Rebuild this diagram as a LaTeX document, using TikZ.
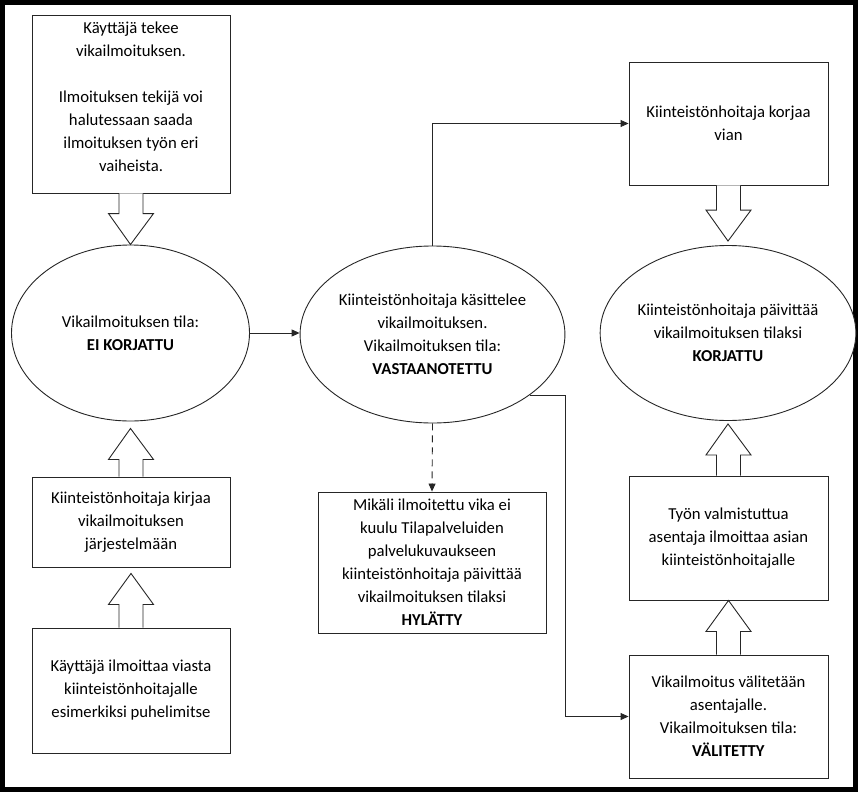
\documentclass[tikz,border=0pt]{standalone}
\usepackage{fontspec}
\setmainfont{Carlito}
\usetikzlibrary{shapes.geometric,arrows.meta,calc}
\newcommand\barrowdown[2]{%
  \draw[blk] let \p1=#1, \p2=#2 in
    (\x1-12pt,\y1) -- (\x1-12pt,\y2+31pt) -- (\x1-22.5pt,\y2+31pt) -- (\x2,\y2)
    -- (\x1+22.5pt,\y2+31pt) -- (\x1+12pt,\y2+31pt) -- (\x1+12pt,\y1);}
\newcommand\barrowup[2]{%
  \draw[blk] let \p1=#1, \p2=#2 in
    (\x1-12pt,\y1) -- (\x1-12pt,\y2-31pt) -- (\x1-22.5pt,\y2-31pt) -- (\x2,\y2)
    -- (\x1+22.5pt,\y2-31pt) -- (\x1+12pt,\y2-31pt) -- (\x1+12pt,\y1);}
\begin{document}
\begin{tikzpicture}[x=1pt,y=-1pt,
  txt/.style={font=\fontsize{16.7}{23}\selectfont, align=center, text=black, inner sep=0pt},
  box/.style={txt, draw=black!85, line width=0.9pt, rectangle, fill=white},
  oval/.style={txt, draw=black!85, line width=0.9pt, ellipse, fill=white},
  blk/.style={draw=black!85, line width=0.9pt, fill=white, line join=miter},
  conn/.style={draw=black!85, line width=0.9pt, -{Triangle[length=8pt,width=7pt]}},
  dconn/.style={conn, dash pattern=on 7pt off 5pt}
]
\useasboundingbox (0,0) rectangle (858,792);
\draw[line width=5pt, black] (2.5,2.5) rectangle (855.5,789.5);

% left column
\node[box, minimum width=198, minimum height=178] (box1) at (131,104) {};
\node[txt] (t1) at (131,97) {Käyttäjä tekee\\vikailmoituksen.\\[23pt]Ilmoituksen tekijä voi\\halutessaan saada\\ilmoituksen työn eri\\vaiheista.};
\node[oval, minimum width=238, minimum height=176] (e1) at (130.5,333) {Vikailmoituksen tila:\\\textbf{EI KORJATTU}};
\node[box, minimum width=198, minimum height=90] (box2) at (131,522) {Kiinteistönhoitaja kirjaa\\vikailmoituksen\\järjestelmään};
\node[box, minimum width=198, minimum height=125] (box3) at (131,690.5) {Käyttäjä ilmoittaa viasta\\kiinteistönhoitajalle\\esimerkiksi puhelimitse};

% middle column
\node[oval, minimum width=239, minimum height=177] (e2) at (432.5,334.5) {Kiinteistönhoitaja käsittelee\\vikailmoituksen.\\Vikailmoituksen tila:\\\textbf{VASTAANOTETTU}};
\node[box, minimum width=228, minimum height=141] (box7) at (432,562.5) {Mikäli ilmoitettu vika ei\\kuulu Tilapalveluiden\\palvelukuvaukseen\\kiinteistönhoitaja päivittää\\vikailmoituksen tilaksi\\\textbf{HYLÄTTY}};

% right column
\node[box, minimum width=199, minimum height=123] (box4) at (728.5,123.5) {Kiinteistönhoitaja korjaa\\vian};
\node[oval, minimum width=238, minimum height=175] (e3) at (728,333) {Kiinteistönhoitaja päivittää\\vikailmoituksen tilaksi\\\textbf{KORJATTU}};
\node[box, minimum width=199, minimum height=124] (box5) at (728.5,538) {Työn valmistuttua\\asentaja ilmoittaa asian\\kiinteistönhoitajalle};
\node[box, minimum width=199, minimum height=123] (box6) at (728.5,716.5) {Vikailmoitus välitetään\\asentajalle.\\Vikailmoituksen tila:\\\textbf{VÄLITETTY}};

% block arrows
\barrowdown{(box1.south)}{(e1.north)}
\barrowup{(box2.north)}{($(e1.south)+(0,7)$)}
\barrowup{(box3.north)}{($(box2.south)+(0,6)$)}
\barrowdown{(box4.south)}{($(e3.north)+(0,-4)$)}
\barrowup{(box5.north)}{($(e3.south)+(0,3)$)}
\barrowup{(box6.north)}{(box5.south)}

% connectors
\draw[conn] (e1.east) -- (e1.east -| e2.west);
\draw[conn] (e2.north) |- (box4.west);
\draw[conn] (e2.-32) -| ($(box6.west)+(-63,0)$) -- (box6.west);
\draw[dconn] (e2.south) -- (box7.north);
\end{tikzpicture}
\end{document}
